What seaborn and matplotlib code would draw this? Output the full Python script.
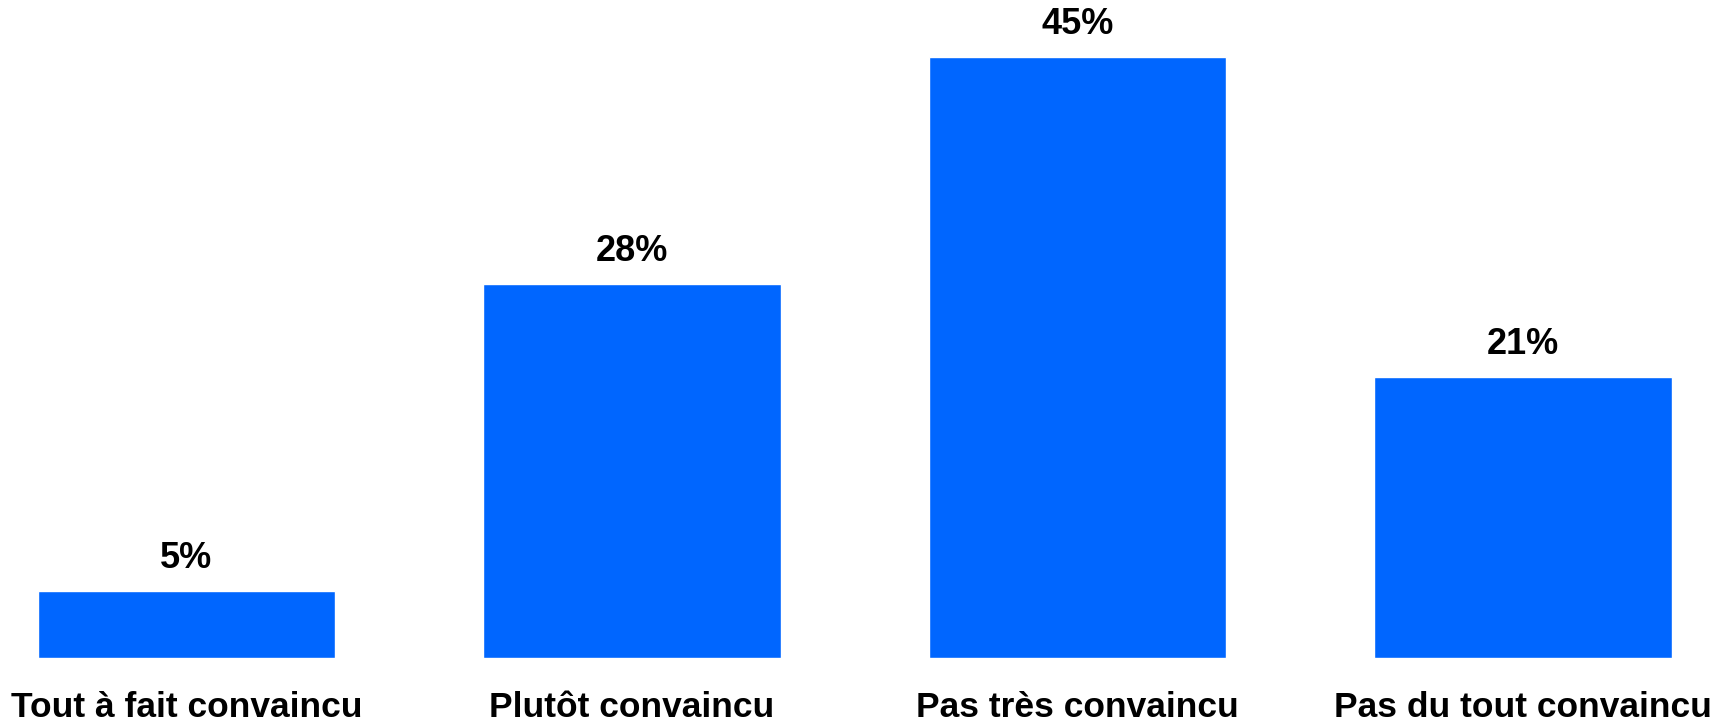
import matplotlib
matplotlib.use('Agg')
import matplotlib.pyplot as plt
import seaborn as sns
import pandas as pd

categories = ['Tout à fait convaincu', 'Plutôt convaincu', 'Pas très convaincu', 'Pas du tout convaincu']
values = [5, 28, 45, 21]
bar_color = '#0066FF'

sns.set_style('white')
plt.rcParams['font.family'] = ['Liberation Sans', 'DejaVu Sans']
plt.rcParams['text.color'] = 'black'
plt.rcParams['xtick.color'] = 'black'

df = pd.DataFrame({'categorie': categories, 'pct': values})

fig = plt.figure(figsize=(17.25, 7.22), dpi=100)
ax = fig.add_axes([0, 64 / 722, 1, 658 / 722])

sns.barplot(data=df, x='categorie', y='pct', color=bar_color, saturation=1,
            width=0.667, ax=ax)

for i, v in enumerate(values):
    ax.annotate(f'{v}%', xy=(i, v), xytext=(0, 11), textcoords='offset points',
                ha='center', va='bottom', fontsize=26, fontweight='bold', color='black')

ax.set_xlim(-186.5 / 445.5, (1725 - 186.5) / 445.5)
ax.set_ylim(0, 658 / 13.36)
ax.set_xlabel('')
ax.set_ylabel('')
ax.set_yticks([])
ax.tick_params(axis='x', length=0, pad=24, labelsize=25.5, labelcolor='black')
for lbl in ax.get_xticklabels():
    lbl.set_fontweight('bold')
sns.despine(ax=ax, left=True, bottom=True)

fig.savefig('out.png', dpi=100)
